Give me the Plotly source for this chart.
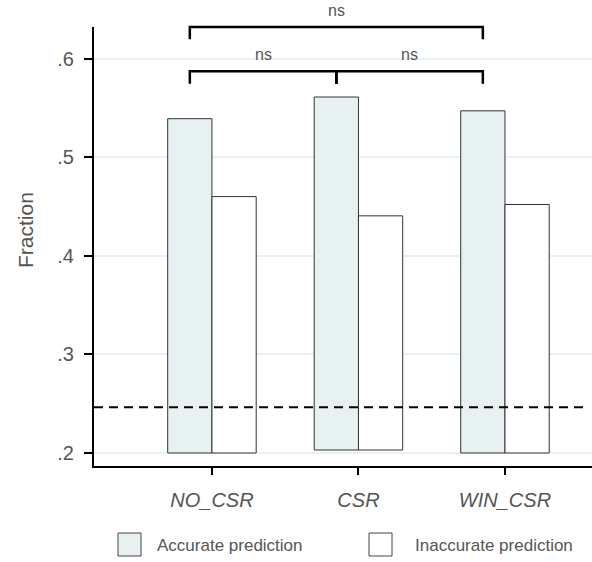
import plotly.graph_objects as go

# ---- data ----
categories = ["NO_CSR", "CSR", "WIN_CSR"]
accurate = [0.539, 0.561, 0.547]
inaccurate = [0.460, 0.4405, 0.452]
bar_base = [0.200, 0.203, 0.200]
chance_level = 0.2465
y_ticks = [0.2, 0.3, 0.4, 0.5, 0.6]
y_tick_labels = [".2", ".3", ".4", ".5", ".6"]
comparisons = [  # (from category index, to category index, level, label)
    (0, 1, 0.587, "ns"),
    (1, 2, 0.587, "ns"),
    (0, 2, 0.632, "ns"),
]
series_names = ["Accurate prediction", "Inaccurate prediction"]

# ---- style ----
FONT = "Liberation Sans, Arial, sans-serif"
TXT = "#555555"
ACC_FILL = "#e8f1f2"
EDGE = "#333333"
W, H = 592, 562
ML, MR, MT, MB = 94, 0, 27, 96
YMIN, YMAX = 0.1868, 0.632
XMIN, XMAX = -0.805, 2.594
BAR_W = 0.302

pw = W - ML - MR
ph = H - MT - MB


def paper_x_from_cat(x):
    return (x - XMIN) / (XMAX - XMIN)


def paper_y_from_val(v):
    return (v - YMIN) / (YMAX - YMIN)


def paper_x_from_px(p):
    return (p - ML) / pw


def paper_y_from_px(p):
    return (H - MB - p) / ph


fig = go.Figure()
fig.add_trace(go.Bar(
    x=categories, y=[a - b for a, b in zip(accurate, bar_base)], base=bar_base,
    name=series_names[0], marker=dict(color=ACC_FILL, line=dict(color=EDGE, width=1)),
))
fig.add_trace(go.Bar(
    x=categories, y=[a - b for a, b in zip(inaccurate, bar_base)], base=bar_base,
    name=series_names[1], marker=dict(color="white", line=dict(color=EDGE, width=1)),
))

shapes = []
annotations = []

# chance level dashed line
shapes.append(dict(type="line", xref="paper", yref="y", x0=0, x1=0.99,
                   y0=chance_level, y1=chance_level,
                   line=dict(color="black", width=2, dash="9px,6px")))

# significance brackets (between accurate-bar centres)
tick_drop = 0.0125
for i, j, lvl, lab in comparisons:
    xa = paper_x_from_cat(i - BAR_W / 2)
    xb = paper_x_from_cat(j - BAR_W / 2)
    yl = paper_y_from_val(lvl)
    yd = paper_y_from_val(lvl - tick_drop)
    shapes.append(dict(type="path", xref="paper", yref="paper",
                       path=f"M{xa},{yd} L{xa},{yl} L{xb},{yl} L{xb},{yd}",
                       line=dict(color="black", width=2.5)))
    annotations.append(dict(xref="paper", yref="paper", x=(xa + xb) / 2, y=yl,
                            yshift=6, text=lab, showarrow=False,
                            xanchor="center", yanchor="bottom",
                            font=dict(family=FONT, size=16, color=TXT)))
# middle tick for the shared CSR endpoint
xm = paper_x_from_cat(1 - BAR_W / 2)
shapes.append(dict(type="line", xref="paper", yref="paper", x0=xm, x1=xm,
                   y0=paper_y_from_val(0.587 - tick_drop), y1=paper_y_from_val(0.587),
                   line=dict(color="black", width=2.5)))

# y-axis title
annotations.append(dict(xref="paper", yref="paper", x=paper_x_from_px(25),
                        y=paper_y_from_px(230), text="Fraction", textangle=-90,
                        showarrow=False, xanchor="center", yanchor="middle",
                        font=dict(family=FONT, size=21, color=TXT)))

# custom legend
for (bx, tx), name, fill in zip([(118, 155), (369, 413)], series_names, [ACC_FILL, "white"]):
    shapes.append(dict(type="rect", xref="paper", yref="paper",
                       x0=paper_x_from_px(bx), x1=paper_x_from_px(bx + 23),
                       y0=paper_y_from_px(556), y1=paper_y_from_px(533),
                       fillcolor=fill, line=dict(color="#444444", width=1)))
    annotations.append(dict(xref="paper", yref="paper", x=paper_x_from_px(tx),
                            y=paper_y_from_px(545), text=name, showarrow=False,
                            xanchor="left", yanchor="middle",
                            font=dict(family=FONT, size=17, color=TXT)))

fig.update_layout(
    width=W, height=H,
    margin=dict(l=ML, r=MR, t=MT, b=MB, pad=0),
    paper_bgcolor="white", plot_bgcolor="white",
    barmode="group", bargap=0.396, bargroupgap=0,
    showlegend=False,
    shapes=shapes, annotations=annotations,
    font=dict(family=FONT, color=TXT),
    xaxis=dict(range=[XMIN, XMAX], showline=True, linecolor="black", linewidth=2,
               ticks="outside", ticklen=7, tickwidth=2, tickcolor="black",
               showgrid=False, zeroline=False,
               tickfont=dict(family=FONT, size=20, color=TXT, style="italic"),
               ticklabelstandoff=8),
    yaxis=dict(range=[YMIN, YMAX], showline=True, linecolor="black", linewidth=2,
               ticks="outside", ticklen=8, tickwidth=2, tickcolor="black",
               tickvals=y_ticks, ticktext=y_tick_labels,
               showgrid=True, gridcolor="#e9f1f3", gridwidth=1.5, zeroline=False,
               tickfont=dict(family=FONT, size=20, color=TXT),
               ticklabelstandoff=6),
)

fig.write_html("out.html")
